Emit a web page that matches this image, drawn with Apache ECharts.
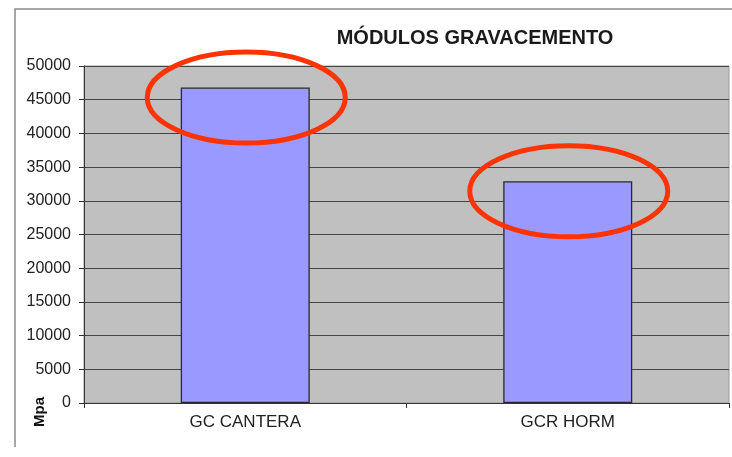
<!DOCTYPE html>
<html>
<head>
<meta charset="utf-8">
<script src="https://cdn.jsdelivr.net/npm/echarts@6/dist/echarts.min.js"></script>
<style>
html,body{margin:0;padding:0;background:#fff;}
#chart{width:732px;height:457px;}
</style>
</head>
<body>
<div id="chart"></div>
<script>
const titleText = 'MÓDULOS GRAVACEMENTO';
const categories = ['GC CANTERA', 'GCR HORM'];
const values = [46800, 32900];
const yAxisName = 'Mpa';
const highlighted = [0, 1];

const FONT = 'Liberation Sans, Arial, sans-serif';
const chart = echarts.init(document.getElementById('chart'), null, {renderer: 'canvas'});

chart.setOption({
  animation: false,
  backgroundColor: '#ffffff',
  title: {
    text: titleText,
    left: 475,
    top: 28,
    padding: 0,
    textAlign: 'center',
    textStyle: {fontFamily: FONT, fontSize: 20, fontWeight: 'bold', color: '#1a1a1a'}
  },
  grid: {
    left: 84, right: 3, top: 66, bottom: 54,
    show: true,
    backgroundColor: '#C0C0C0',
    borderColor: '#9a9a9a',
    borderWidth: 1
  },
  xAxis: {
    type: 'category',
    data: categories,
    axisLine: {lineStyle: {color: '#333', width: 1}},
    axisTick: {show: true, length: 5, lineStyle: {color: '#333'}},
    axisLabel: {fontFamily: FONT, fontSize: 17, color: '#222', margin: 11}
  },
  yAxis: {
    type: 'value',
    min: 0, max: 50000, interval: 5000,
    axisLine: {show: true, lineStyle: {color: '#333', width: 1}},
    axisTick: {show: true, length: 5, lineStyle: {color: '#333'}},
    axisLabel: {fontFamily: FONT, fontSize: 16, color: '#222', margin: 13,
      formatter: function (v) { return String(v); }},
    splitLine: {show: true, lineStyle: {color: '#444', width: 1.2}}
  },
  series: [{
    type: 'bar',
    data: values,
    barWidth: '40%',
    itemStyle: {color: '#9999FF', borderColor: '#2a2a2a', borderWidth: 1.3}
  }]
});

const graphics = [
  {
    type: 'polyline',
    shape: {points: [[15, 447], [15, 9], [732, 9]]},
    style: {stroke: '#8a8a8a', lineWidth: 1.5, fill: null},
    silent: true
  },
  {
    type: 'text',
    x: 40, y: 412,
    rotation: Math.PI / 2,
    style: {text: yAxisName, font: 'bold 15px ' + FONT, fill: '#111', textAlign: 'center', textVerticalAlign: 'middle'},
    silent: true
  }
];
highlighted.forEach(function (i) {
  const p = chart.convertToPixel({seriesIndex: 0}, [i, values[i]]);
  graphics.push({
    type: 'ellipse',
    shape: {cx: p[0] + 1, cy: p[1] + 10, rx: 99, ry: 45.5},
    style: {stroke: '#FF3300', lineWidth: 5, fill: null},
    z: 100,
    silent: true
  });
});
chart.setOption({graphic: graphics});
</script>
</body>
</html>
